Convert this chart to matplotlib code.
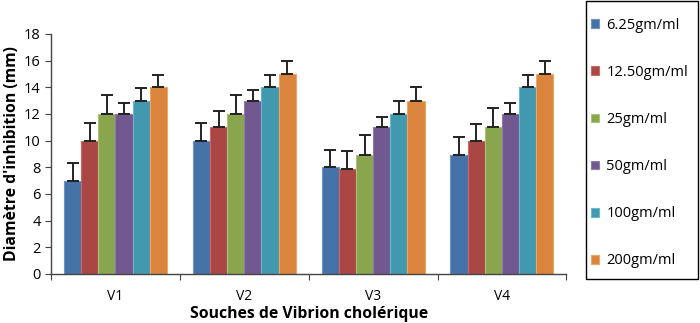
import numpy as np
import matplotlib.pyplot as plt
from matplotlib.patches import Rectangle

plt.rcParams['font.family'] = ['Open Sans', 'DejaVu Sans']

strains = ['V1', 'V2', 'V3', 'V4']
concs = ['6.25gm/ml', '12.50gm/ml', '25gm/ml', '50gm/ml', '100gm/ml', '200gm/ml']

# inhibition diameter (mm), one row per concentration
means = [
    [7, 10, 8, 8.9],
    [10, 11, 7.9, 10],
    [12, 12, 8.9, 11],
    [12, 13, 11, 12],
    [13, 14, 12, 14],
    [14, 15, 13, 15],
]
errs = [
    [1.3, 1.3, 1.3, 1.4],
    [1.3, 1.25, 1.3, 1.25],
    [1.45, 1.45, 1.5, 1.45],
    [0.8, 0.8, 0.8, 0.8],
    [0.95, 0.95, 1.0, 0.95],
    [0.95, 0.95, 1.0, 1.0],
]

colors = ['#4572A7', '#AA4643', '#89A54E', '#71588F', '#4198AF', '#DB843D']
edges = ['#6d94c4', '#c96a67', '#a9c477', '#9079ac', '#6bb7cc', '#f0a56a']

fig = plt.figure(figsize=(7, 3.23), dpi=100)
ax = fig.add_axes([0.073, 0.152, 0.736, 0.743])

x = np.arange(len(strains)) + 0.5
w = 0.8 / len(concs)
for i, (m, e) in enumerate(zip(means, errs)):
    pos = x - 0.4 + w * (i + 0.5)
    ax.bar(pos, m, w, color=colors[i], edgecolor=edges[i], linewidth=0.8,
           label=concs[i], zorder=2)
    ax.errorbar(pos, m, yerr=[np.zeros(len(e)), e], fmt='none',
                ecolor='#222222', elinewidth=1.4, capsize=4, capthick=1.4,
                zorder=3)

ax.set_xlim(0, 4)
ax.set_ylim(0, 18)
ax.set_yticks(range(0, 19, 2))
ax.set_xticks(range(0, 5))
ax.set_xticklabels([])
ax.set_xticks(x, minor=True)
ax.set_xticklabels(strains, minor=True)
ax.tick_params(axis='x', which='minor', length=0, pad=11)
ax.tick_params(axis='x', which='major', length=4, color='#444444')
ax.tick_params(axis='y', length=4, color='#444444')
ax.tick_params(labelsize=10.5)

for s in ['top', 'right']:
    ax.spines[s].set_visible(False)
for s in ['left', 'bottom']:
    ax.spines[s].set_color('#444444')
    ax.spines[s].set_linewidth(1.0)

ax.set_xlabel('Souches de Vibrion cholérique', fontsize=11.3, fontweight='bold',
              labelpad=1)
ax.set_ylabel("Diamètre d'inhibition (mm)", fontsize=11.3, fontweight='bold',
              labelpad=3)

# legend in a framed box to the right
fig.patches.append(Rectangle((0.837, 0.136), 0.160, 0.862, transform=fig.transFigure,
                             fill=False, edgecolor='black', linewidth=1.0))
fig.legend(loc='upper left', bbox_to_anchor=(0.838, 0.958), frameon=False,
           fontsize=10.5, handlelength=0.55, handleheight=0.55, handletextpad=0.5,
           labelspacing=2.2, borderpad=0.3, borderaxespad=0)

fig.savefig('out.png', dpi=100)
